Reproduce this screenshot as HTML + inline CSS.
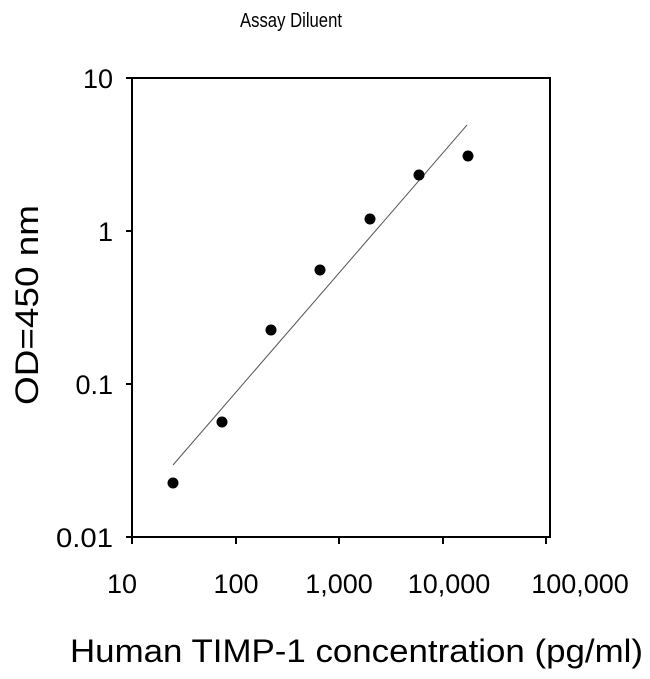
<!DOCTYPE html>
<html><head><style>body{margin:0;background:#fff}</style></head><body>
<svg width="650" height="674" xmlns="http://www.w3.org/2000/svg" font-family="Liberation Sans, sans-serif">
<rect width="650" height="674" fill="#fff"/>
<text x="240" y="27" font-size="20" textLength="102" lengthAdjust="spacingAndGlyphs">Assay Diluent</text>
<rect x="132" y="78" width="418" height="459" fill="none" stroke="#000" stroke-width="2"/>
<g stroke="#000" stroke-width="2">
<line x1="126" y1="78" x2="132" y2="78"/><line x1="126" y1="231" x2="132" y2="231"/><line x1="126" y1="384" x2="132" y2="384"/><line x1="126" y1="537" x2="132" y2="537"/>
<line x1="132" y1="537" x2="132" y2="544"/><line x1="236" y1="537" x2="236" y2="544"/><line x1="339" y1="537" x2="339" y2="544"/><line x1="443" y1="537" x2="443" y2="544"/><line x1="546" y1="537" x2="546" y2="544"/>
</g>
<g font-size="27" text-anchor="end">
<text x="113" y="88">10</text><text x="113" y="241">1</text><text x="113" y="394">0.1</text><text x="113" y="547" textLength="57" lengthAdjust="spacingAndGlyphs">0.01</text>
</g>
<g font-size="27" text-anchor="middle">
<text x="122" y="593">10</text><text x="236" y="593">100</text><text x="339" y="593">1,000</text><text x="449" y="593">10,000</text><text x="580" y="593">100,000</text>
</g>
<line x1="173" y1="465" x2="467" y2="125" stroke="#555" stroke-width="1"/>
<g fill="#000">
<circle cx="173" cy="483" r="5.5"/><circle cx="222" cy="422" r="5.5"/><circle cx="271" cy="330" r="5.5"/><circle cx="320" cy="270" r="5.5"/><circle cx="370" cy="219" r="5.5"/><circle cx="419" cy="175" r="5.5"/><circle cx="468" cy="156" r="5.5"/>
</g>
<text x="70" y="662" font-size="32" textLength="573" lengthAdjust="spacingAndGlyphs">Human TIMP-1 concentration (pg/ml)</text>
<text transform="translate(38,405) rotate(-90)" font-size="32" textLength="200" lengthAdjust="spacingAndGlyphs">OD=450 nm</text>
</svg>
</body></html>
